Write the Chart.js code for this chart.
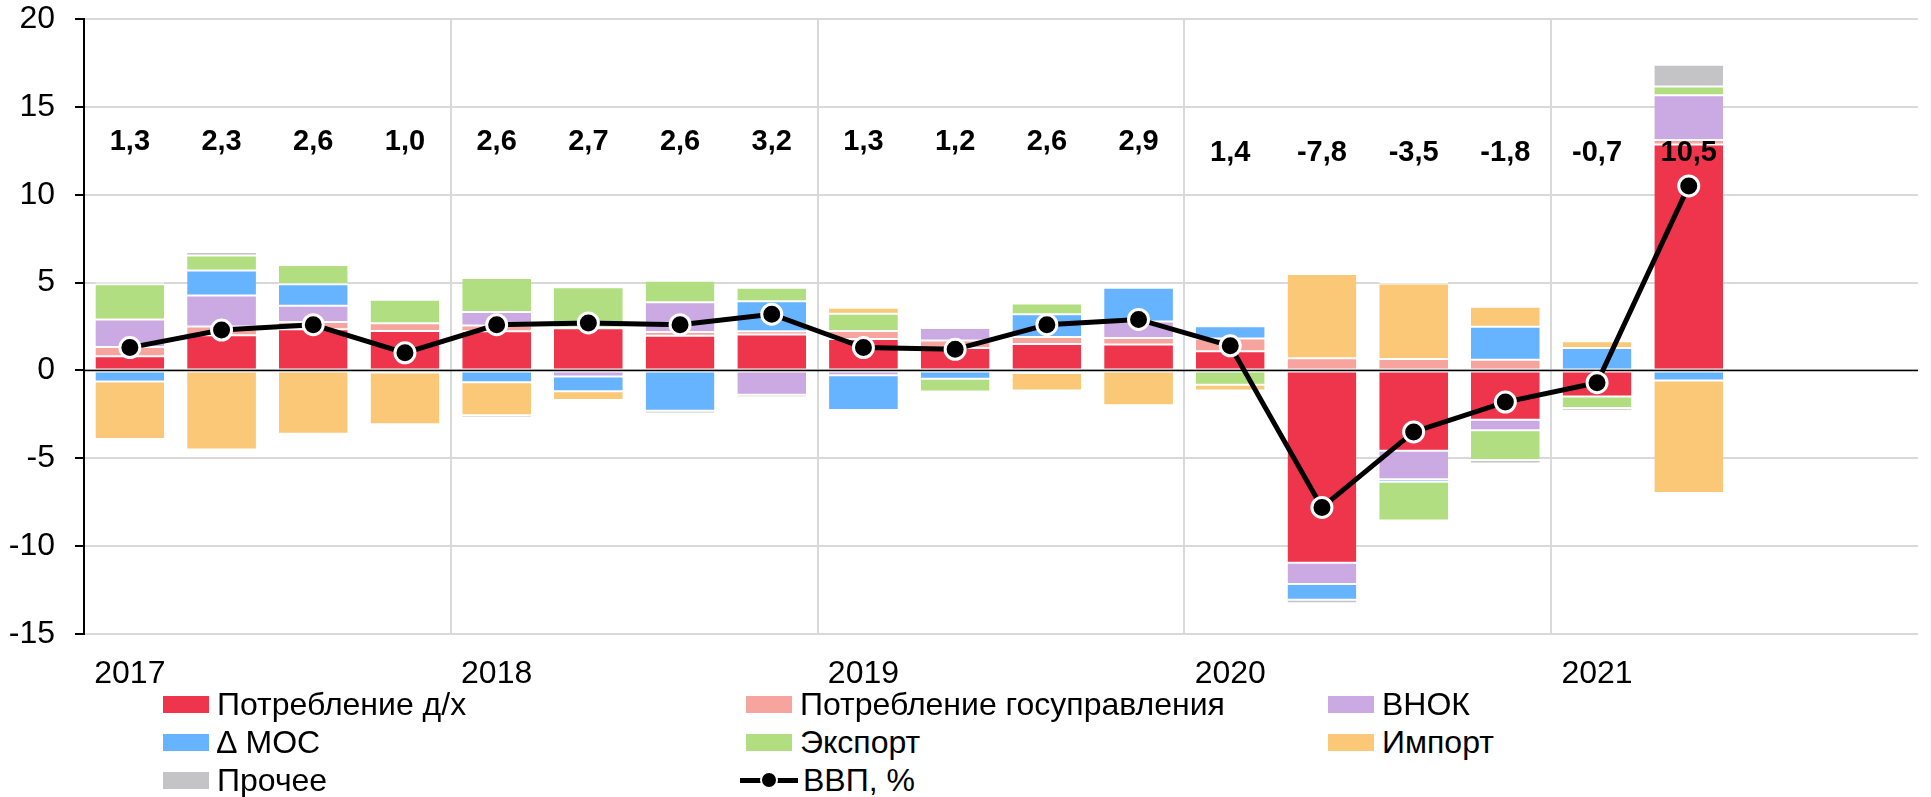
<!DOCTYPE html>
<html lang="ru">
<head>
<meta charset="utf-8">
<title>ВВП</title>
<script src="https://cdn.jsdelivr.net/npm/chart.js@4.4.1/dist/chart.umd.min.js"></script>
<style>
    html, body { margin: 0; padding: 0; background: #fff; }
    body { width: 1931px; height: 797px; position: relative; overflow: hidden; font-family: "Liberation Sans", Arial, sans-serif; }
    #chart-box { position: absolute; left: 0; top: 0; width: 1931px; height: 690px; }
    .legend-item { position: absolute; display: flex; align-items: center; font-size: 32px; color: #000; white-space: nowrap; height: 36px; }
    .legend-key { width: 46px; height: 17px; margin-right: 8px; }
    .legend-line { width: 58px; height: 20px; margin-right: 5px; position: relative; }
    .legend-line::before { content: ''; position: absolute; left: 0; right: 0; top: 8px; height: 5px; background: #000; }
    .legend-line::after { content: ''; position: absolute; left: 20px; top: 1px; width: 14px; height: 14px; border-radius: 50%; background: #000; border: 2px solid #fff; }
</style>
</head>
<body>
<div id="chart-box"><canvas id="gdp-chart"></canvas></div>
<div id="legend"></div>
<script>
// データ
const quarters = ['2017', '', '', '', '2018', '', '', '', '2019', '', '', '', '2020', '', '', '', '2021', '', '', ''];
const household = [0.8, 2.0, 2.35, 2.25, 2.23, 2.4, 1.98, 2.04, 1.79, 1.28, 1.5, 1.47, 1.09, -10.95, -4.57, -2.8, -1.49, 12.86];
const government = [0.53, 0.5, 0.4, 0.43, 0.32, 0.05, 0.2, 0.19, 0.46, 0.42, 0.4, 0.38, 0.72, 0.7, 0.65, 0.61, 0, 0.26];
const investment = [1.57, 1.76, 0.93, 0, 0.78, -0.34, 1.7, -1.39, -0.28, 0.72, -0.15, 0.93, 0, -1.2, -1.62, -0.6, 0, 2.54];
const inventories = [-0.63, 1.43, 1.23, -0.12, -0.67, -0.84, -2.3, 1.7, -1.97, -0.48, 1.3, 1.92, 0.7, -0.9, -0.15, 1.87, 1.28, -0.57];
const exports = [2.0, 0.85, 1.09, 1.34, 1.93, 2.29, 1.23, 0.77, 0.97, -0.72, 0.61, 0, -0.82, 0, -2.2, -1.7, -0.65, 0.5];
const imports = [-3.27, -4.5, -3.6, -2.95, -1.88, -0.5, 0, 0, 0.34, 0, -0.99, -1.98, -0.32, 4.79, 4.3, 1.14, 0.38, -6.4];
const other = [0.15, 0.2, 0.12, 0, -0.15, -0.1, -0.15, -0.13, 0, -0.08, 0, 0, 0, -0.2, 0.08, -0.2, -0.15, 1.23];
const gdp = [1.3, 2.3, 2.6, 1.0, 2.6, 2.7, 2.6, 3.2, 1.3, 1.2, 2.6, 2.9, 1.4, -7.8, -3.5, -1.8, -0.7, 10.5];
const yTicks = [-15, -10, -5, 0, 5, 10, 15, 20];

const series = [
    { label: 'Потребление д/х', data: household, color: '#EF354B' },
    { label: 'Потребление госуправления', data: government, color: '#F6A49D' },
    { label: 'ВНОК', data: investment, color: '#CBA9E2' },
    { label: '∆ МОС', data: inventories, color: '#66B3FF' },
    { label: 'Экспорт', data: exports, color: '#B1DE80' },
    { label: 'Импорт', data: imports, color: '#FBC877' },
    { label: 'Прочее', data: other, color: '#C4C4C6' }
];

const fmt = v => v.toFixed(1).replace('.', ',');
const axisFont = { family: '"Liberation Sans", Arial, sans-serif', size: 32 };

// 0ラインをGDP線の下に描く
const zeroLinePlugin = {
    id: 'zeroLine',
    beforeDatasetDraw(chart, args) {
        if (args.index !== series.length) return;
        const { ctx, chartArea, scales } = chart;
        const y = Math.round(scales.y.getPixelForValue(0)) + 0.5;
        ctx.save();
        ctx.strokeStyle = '#000';
        ctx.lineWidth = 1.6;
        ctx.beginPath();
        ctx.moveTo(chartArea.left, y);
        ctx.lineTo(chartArea.right, y);
        ctx.stroke();
        ctx.restore();
    }
};

// 上部のGDP値ラベル
const valueLabelPlugin = {
    id: 'valueLabels',
    afterDatasetsDraw(chart) {
        const { ctx, scales } = chart;
        ctx.save();
        ctx.font = 'bold 29px "Liberation Sans", Arial, sans-serif';
        ctx.fillStyle = '#000';
        ctx.textAlign = 'center';
        ctx.textBaseline = 'middle';
        gdp.forEach((v, i) => {
            const x = scales.x.getPixelForValue(i);
            const y = scales.y.getPixelForValue(i < 12 ? 13 : 12.4);
            ctx.fillText(fmt(v), x, y);
        });
        ctx.restore();
    }
};

const datasets = series.map(s => ({
    type: 'bar',
    label: s.label,
    data: s.data,
    backgroundColor: s.color,
    borderColor: '#fff',
    borderWidth: { top: 1, bottom: 1, left: 0, right: 0 },
    borderSkipped: false,
    categoryPercentage: 1,
    barPercentage: 0.75,
    order: 1
}));

datasets.push({
    type: 'line',
    label: 'ВВП, %',
    data: gdp,
    stack: 'gdp',
    borderColor: '#000',
    borderWidth: 5,
    pointRadius: 10,
    pointBackgroundColor: '#000',
    pointBorderColor: '#fff',
    pointBorderWidth: 3,
    tension: 0,
    order: 0
});

const ctx = document.getElementById('gdp-chart').getContext('2d');
const chart = new Chart(ctx, {
    data: { labels: quarters, datasets },
    options: {
        responsive: true,
        maintainAspectRatio: false,
        animation: false,
        layout: { padding: { top: 0, right: 5, left: 0, bottom: 0 } },
        plugins: { legend: { display: false }, tooltip: { enabled: false } },
        scales: {
            x: {
                stacked: true,
                offset: true,
                border: { display: false },
                grid: {
                    offset: true,
                    drawTicks: false,
                    lineWidth: 2,
                    color: c => (c.index % 4 === 0 && c.index > 0 && c.index < quarters.length) ? '#D9D9D9' : 'rgba(0,0,0,0)'
                },
                ticks: {
                    autoSkip: false,
                    maxRotation: 0,
                    padding: 21,
                    color: '#000',
                    font: axisFont
                },
                afterFit: scale => { scale.height = 56; }
            },
            y: {
                stacked: true,
                min: -15,
                max: 20,
                afterBuildTicks: scale => { scale.ticks = yTicks.map(v => ({ value: v })); },
                border: { display: true, color: '#000', width: 2 },
                grid: {
                    color: '#D9D9D9',
                    lineWidth: 2,
                    tickColor: '#000',
                    tickLength: 9
                },
                ticks: {
                    padding: 20,
                    color: '#000',
                    font: axisFont
                },
                afterFit: scale => { scale.width = 84; scale.paddingTop = 19; }
            }
        }
    },
    plugins: [zeroLinePlugin, valueLabelPlugin]
});

// 凡例 (HTML)
const legendEl = document.getElementById('legend');
const legendCols = [163, 746, 1328];
const legendRows = [704, 742, 780];
const legendItems = series.map(s => ({ label: s.label, color: s.color }));
legendItems.push({ label: 'ВВП, %', line: true });
legendItems.forEach((item, i) => {
    const div = document.createElement('div');
    div.className = 'legend-item';
    const col = i % 3;
    const row = Math.floor(i / 3);
    div.style.left = (item.line ? legendCols[col] - 6 : legendCols[col]) + 'px';
    div.style.top = (legendRows[row] - 18) + 'px';
    const key = document.createElement('span');
    if (item.line) {
        key.className = 'legend-line';
    } else {
        key.className = 'legend-key';
        key.style.background = item.color;
    }
    const text = document.createElement('span');
    text.textContent = item.label;
    div.appendChild(key);
    div.appendChild(text);
    legendEl.appendChild(div);
});
</script>
</body>
</html>
